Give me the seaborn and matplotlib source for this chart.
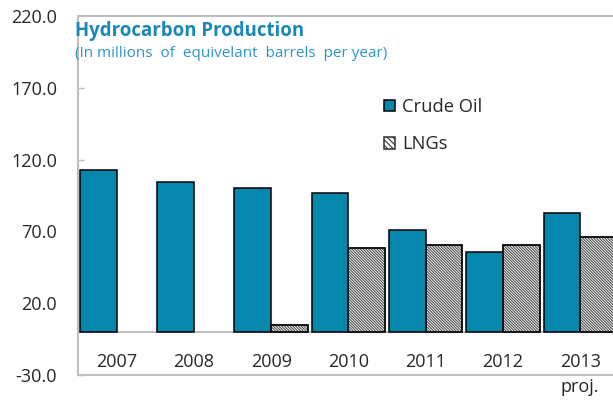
import numpy as np
import pandas as pd
import matplotlib.pyplot as plt
import seaborn as sns
from matplotlib.patches import Patch, Rectangle

years = ["2007", "2008", "2009", "2010", "2011", "2012", "2013\nproj."]
crude_oil = [113.0, 104.2, 100.3, 96.8, 71.2, 55.7, 82.7]
lngs = [np.nan, np.nan, 4.9, 58.3, 60.8, 60.8, 65.9]
y_ticks = [220, 170, 120, 70, 20, -30]

teal = "#0587ae"
title_col = "#1b87b9"
grid_gray = "#bfbfbf"

df = pd.DataFrame({"year": years * 2,
                   "value": crude_oil + lngs,
                   "kind": ["Crude Oil"] * len(years) + ["LNGs"] * len(years)})

sns.set_style("white")
plt.rcParams["font.family"] = ["Open Sans", "DejaVu Sans"]
plt.rcParams["hatch.linewidth"] = 0.8

fig = plt.figure(figsize=(6.13, 4.03), dpi=100)
ax = fig.add_axes([0.1272, 0.0695, 0.8825, 0.8908])

sns.barplot(data=df, x="year", y="value", hue="kind", order=years,
            palette={"Crude Oil": teal, "LNGs": "white"}, saturation=1,
            width=0.95, edgecolor="black", linewidth=1.1, ax=ax, legend=False)

# LNG bars get the diagonal hatch
n = len(years)
for p in ax.patches[n:]:
    if np.isfinite(p.get_height()):
        p.set_hatch("\\" * 12)
        p.set_edgecolor("#505050")
        ax.add_patch(Rectangle(p.get_xy(), p.get_width(), p.get_height(),
                               fill=False, edgecolor="black", linewidth=1.1))

ax.set_xlim(-0.5, n - 0.5)
ax.set_ylim(y_ticks[-1], y_ticks[0])
ax.set_yticks(y_ticks)
ax.set_yticklabels([f"{v:.1f}" for v in y_ticks])
ax.set_xlabel("")
ax.set_ylabel("")

# category axis crosses at zero, labels kept low
ax.spines["bottom"].set_position(("data", 0))
ax.set_xticks(np.arange(n) + 0.5, minor=True)
ax.tick_params(axis="x", which="major", length=0, pad=15, labelsize=13)
ax.tick_params(axis="x", which="minor", direction="in", length=4, width=1,
               color=grid_gray)
ax.tick_params(axis="y", direction="in", length=4, width=1, color=grid_gray,
               pad=15, labelsize=13, left=True)
ax.get_xticklabels()[-1].set_linespacing(1.5)
for s in ["left", "bottom", "top"]:
    ax.spines[s].set_color(grid_gray)
    ax.spines[s].set_linewidth(1.5)
ax.spines["right"].set_visible(False)
ax.axhline(y_ticks[-1], color=grid_gray, lw=1.5, clip_on=False)
ax.spines["bottom"].set_zorder(0.5)

fig.text(0.1223, 0.9107, "Hydrocarbon Production", fontsize=13.4,
         fontweight="bold", color=title_col)
fig.text(0.1223, 0.8586, "(In millions  of  equivelant  barrels  per year)",
         fontsize=11, color="#2d95c6")

handles = [Patch(facecolor=teal, edgecolor="black", lw=1.1),
           Patch(facecolor="white", edgecolor="#303030", hatch="\\" * 6, lw=1.1)]
fig.legend(handles, ["Crude Oil", "LNGs"], loc="upper left",
           bbox_to_anchor=(0.626, 0.757), frameon=False, fontsize=13.2,
           handlelength=0.62, handleheight=0.62, handletextpad=0.4,
           labelspacing=1.05, borderpad=0, borderaxespad=0)

fig.savefig("out.png", dpi=100)
